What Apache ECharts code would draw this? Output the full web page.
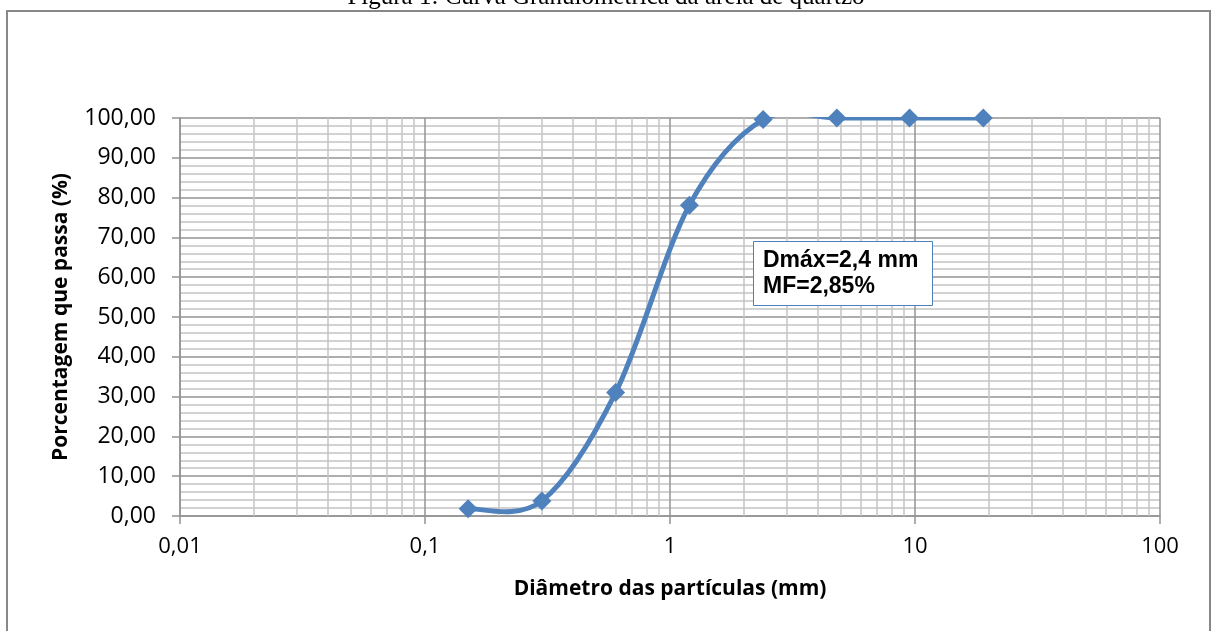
<!DOCTYPE html>
<html>
<head>
<meta charset="utf-8">
<script src="https://cdn.jsdelivr.net/npm/echarts@6/dist/echarts.min.js"></script>
<style>html,body{margin:0;padding:0;background:#fff;}#c{width:1214px;height:631px;}</style>
</head>
<body>
<div id="c"></div>
<script>
// Sieve openings (mm) and cumulative percent passing
const diameters = [0.15, 0.3, 0.6, 1.2, 2.4, 4.8, 9.5, 19];
const passing = [1.8, 3.8, 31.0, 78.1, 99.6, 100, 100, 100];
const xTickLabels = ['0,01', '0,1', '1', '10', '100'];
const minorXGrid = [0.02,0.03,0.04,0.05,0.06,0.07,0.08,0.09,
                    0.2,0.3,0.4,0.5,0.6,0.7,0.8,0.9,
                    2,3,4,5,6,7,8,9,
                    20,30,40,50,60,70,80,90];
const chartTitle = 'Figura 1: Curva Granulométrica da areia de quartzo';
const boxLines = ['Dmáx=2,4 mm', 'MF=2,85%'];

const chart = echarts.init(document.getElementById('c'), null, {renderer: 'canvas'});
const blue = '#4F81BD';
const majorGrid = '#939393';
const minorGrid = '#c4c4c4';

function fmtX(v) {
  const n = Number(Number(v).toPrecision(6));
  const map = {0.01: xTickLabels[0], 0.1: xTickLabels[1], 1: xTickLabels[2], 10: xTickLabels[3], 100: xTickLabels[4]};
  return map[n] !== undefined ? map[n] : String(n).replace('.', ',');
}

const points = diameters.map((d, i) => [d, passing[i]]);

// Excel-style smoothed line (Catmull-Rom Bezier through the points, computed in pixel space via the axes)
function renderSmooth(params, api) {
  if (params.dataIndex !== 0) return null;
  const px = points.map(p => api.coord(p));
  const n = px.length;
  const cmds = ['M', px[0][0], px[0][1]];
  for (let i = 0; i < n - 1; i++) {
    const p0 = px[Math.max(i - 1, 0)], p1 = px[i], p2 = px[i + 1], p3 = px[Math.min(i + 2, n - 1)];
    const c1x = p1[0] + (p2[0] - p0[0]) / 6, c1y = p1[1] + (p2[1] - p0[1]) / 6;
    const c2x = p2[0] - (p3[0] - p1[0]) / 6, c2y = p2[1] - (p3[1] - p1[1]) / 6;
    cmds.push('C', c1x, c1y, c2x, c2y, p2[0], p2[1]);
  }
  const cs = params.coordSys;
  return {
    type: 'group',
    children: [{
      type: 'path',
      shape: {pathData: cmds.join(' ')},
      style: {fill: 'none', stroke: blue, lineWidth: 5, lineCap: 'round', lineJoin: 'round'}
    }],
    clipPath: {type: 'rect', shape: {x: cs.x, y: cs.y - 1, width: cs.width, height: cs.height + 2}}
  };
}

chart.setOption({
  animation: false,
  backgroundColor: '#fff',
  grid: {left: 180, right: 54, top: 118, bottom: 115, containLabel: false},
  xAxis: {
    type: 'log', logBase: 10, min: 0.01, max: 100,
    name: 'Diâmetro das partículas (mm)', nameLocation: 'middle', nameGap: 63,
    nameTextStyle: {fontFamily: 'Open Sans', fontWeight: 'bold', fontSize: 21, color: '#000'},
    axisLine: {show: true, lineStyle: {color: majorGrid, width: 1.5}},
    axisTick: {show: true, length: 8, lineStyle: {color: majorGrid, width: 1.5}},
    axisLabel: {fontFamily: 'Open Sans', fontSize: 22, color: '#000', margin: 20, formatter: fmtX},
    splitLine: {show: true, lineStyle: {color: majorGrid, width: 1.5}},
    minorTick: {show: false}
  },
  yAxis: {
    type: 'value', min: 0, max: 100, interval: 10,
    name: 'Porcentagem que passa (%)', nameLocation: 'middle', nameGap: 108, nameRotate: 90,
    nameTextStyle: {fontFamily: 'Open Sans', fontWeight: 'bold', fontSize: 21, color: '#000'},
    axisLine: {show: true, lineStyle: {color: majorGrid, width: 1.5}},
    axisTick: {show: true, length: 8, lineStyle: {color: majorGrid, width: 1.5}},
    axisLabel: {fontFamily: 'Open Sans', fontSize: 23, color: '#000', margin: 24,
      formatter: v => v.toFixed(2).replace('.', ',')},
    splitLine: {show: true, lineStyle: {color: majorGrid, width: 1.5}},
    minorTick: {show: false, splitNumber: 5},
    minorSplitLine: {show: true, lineStyle: {color: minorGrid, width: 1.5}}
  },
  series: [
    {
      type: 'line', data: [[1, 50]], z: 1, silent: true,
      symbol: 'none', lineStyle: {opacity: 0},
      markLine: {
        silent: true, symbol: 'none', label: {show: false}, animation: false,
        lineStyle: {color: minorGrid, width: 1.5, type: 'solid'},
        data: minorXGrid.map(v => ({xAxis: v}))
      }
    },
    {
      type: 'custom', z: 5, silent: true,
      data: points,
      renderItem: renderSmooth
    },
    {
      type: 'scatter', z: 6,
      data: points,
      symbol: 'diamond', symbolSize: 19,
      itemStyle: {color: blue, opacity: 1}
    }
  ],
  graphic: [
    {type: 'rect', z: 0, silent: true,
      shape: {x: 7, y: 11, width: 1203, height: 700},
      style: {fill: 'none', stroke: '#888', lineWidth: 2}},
    {type: 'text', z: 10, silent: true,
      style: {x: 606, y: 10, text: chartTitle, font: '25px "Liberation Serif"', fill: '#000',
        textAlign: 'center', textVerticalAlign: 'bottom'}},
    {type: 'rect', z: 10, silent: true,
      shape: {x: 753.5, y: 241.5, width: 179, height: 64},
      style: {fill: '#fff', stroke: blue, lineWidth: 1}},
    {type: 'text', z: 11, silent: true,
      style: {x: 763, y: 261, text: boxLines[0], font: 'bold 23px "Liberation Sans"', fill: '#000',
        textAlign: 'left', textVerticalAlign: 'middle'}},
    {type: 'text', z: 11, silent: true,
      style: {x: 763, y: 287, text: boxLines[1], font: 'bold 23px "Liberation Sans"', fill: '#000',
        textAlign: 'left', textVerticalAlign: 'middle'}}
  ]
});
</script>
</body>
</html>
